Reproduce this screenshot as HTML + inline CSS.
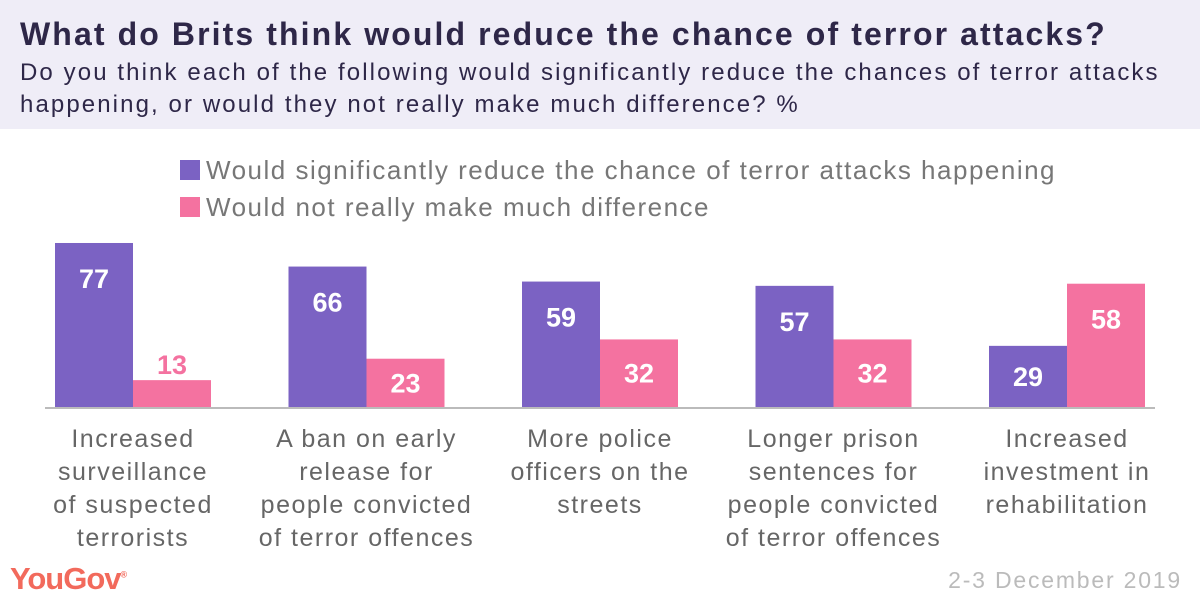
<!DOCTYPE html>
<html><head><meta charset="utf-8"><style>
body{margin:0;width:1200px;height:600px;overflow:hidden;background:#fff;font-family:"Liberation Sans",sans-serif;position:relative}
#hdr{position:absolute;left:0;top:0;width:1200px;height:129px;background:#efedf7}
.t{position:absolute;white-space:nowrap}
</style></head><body>
<div id="hdr"></div>
<div class="t" style="left:20px;top:16px;font-size:32px;letter-spacing:2.1px;font-weight:bold;color:#2e2748">What do Brits think would reduce the chance of terror attacks?</div>
<div class="t" style="left:20px;top:57px;font-size:24px;letter-spacing:2.1px;line-height:32px;color:#2e2748">Do you think each of the following would significantly reduce the chances of terror attacks<br>happening, or would they not really make much difference? %</div>
<svg width="1200" height="600" style="position:absolute;left:0;top:0">
<g id="legend"></g><g id="bars"></g><g id="labels"></g>
<line x1="45" x2="1155" y1="408" y2="408" stroke="#bbb" stroke-width="2"/>
</svg>
<div class="t" style="left:10px;top:561px;font-size:31px;font-weight:bold;color:#f26a5c;letter-spacing:-1px">YouGov<sup style="font-size:9px">®</sup></div>
<div class="t" style="right:18px;top:567px;font-size:23px;letter-spacing:1.8px;color:#bbb">2-3 December 2019</div>
<script>
const categories=[["Increased","surveillance","of suspected","terrorists"],["A ban on early","release for","people convicted","of terror offences"],["More police","officers on the","streets"],["Longer prison","sentences for","people convicted","of terror offences"],["Increased","investment in","rehabilitation"]];
const reduce=[77,66,59,57,29];
const noDiff=[13,23,32,32,58];
const seriesNames=["Would significantly reduce the chance of terror attacks happening","Would not really make much difference"];
const colors=["#7b62c3","#f472a0"];
const NS="http://www.w3.org/2000/svg";
const baseY=408,scale=2.143,barW=78,groupW=233.5,x0=55;
const yH=v=>v*scale;
const gx=i=>x0+i*groupW;
function mk(tag,attrs,parent){const e=document.createElementNS(NS,tag);for(const k in attrs)e.setAttribute(k,attrs[k]);parent.appendChild(e);return e;}
const bars=document.getElementById('bars'),labels=document.getElementById('labels'),legend=document.getElementById('legend');
seriesNames.forEach((n,s)=>{
  const r=mk('rect',{x:180,y:160+s*37,width:20,height:20,fill:colors[s]},legend);
  
  
  const t=mk('text',{x:206,y:179+s*37,'font-size':26,'letter-spacing':1.5,fill:'#777'},legend);
  t.textContent=n;
  
  
});
[reduce,noDiff].forEach((arr,s)=>{
  arr.forEach((v,i)=>{
    const h=yH(v),x=gx(i)+s*barW;
    const r=mk('rect',{x:x,y:baseY-h,width:barW,height:h,fill:colors[s]},bars);
    
    
    const inside=h>40;
    const off=Math.min(45,h/2+9);
    const t=mk('text',{x:x+barW/2,y:inside?baseY-h+off:baseY-h-6,'text-anchor':'middle','font-size':27,'font-weight':'bold',fill:inside?'#fff':colors[s]},bars);
    t.textContent=v;
    
    
  });
});
categories.forEach((lines,i)=>{
  const t=mk('text',{'text-anchor':'middle','font-size':25,'letter-spacing':1.5,fill:'#666'},labels);
  
  
  lines.forEach((l,j)=>{const ts=mk('tspan',{x:gx(i)+barW,y:447+j*33},t);ts.textContent=l;});
});
</script>
</body></html>
